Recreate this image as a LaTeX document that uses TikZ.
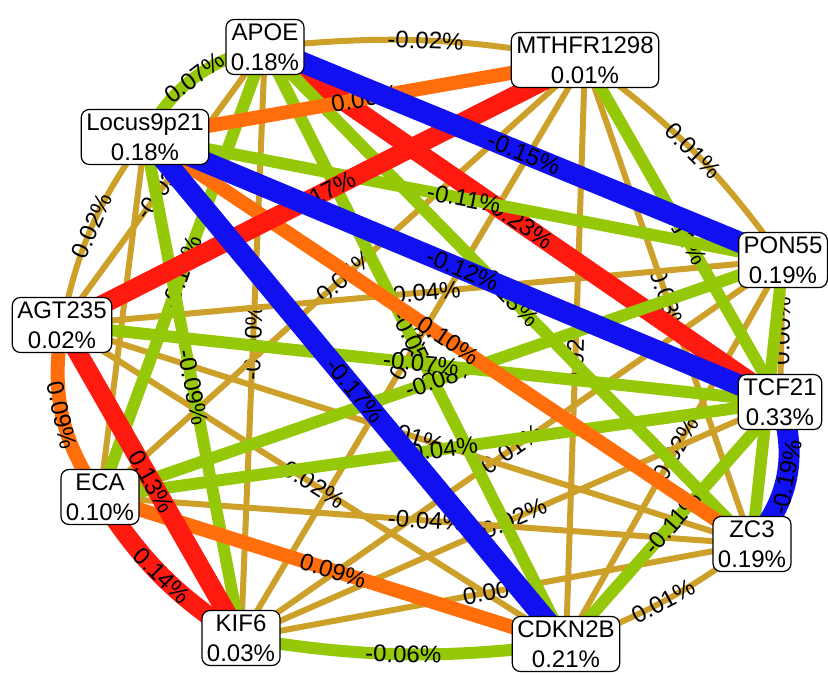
\documentclass[tikz,border=0pt]{standalone}
\usepackage{fontspec}
\setmainfont{Liberation Sans}
\usepackage{xcolor}
\usepackage{tikz}
\definecolor{eblue}{HTML}{1010F0}
\definecolor{ered}{HTML}{FF1A10}
\definecolor{eorange}{HTML}{FF6E0A}
\definecolor{egreen}{HTML}{96C80A}
\definecolor{egold}{HTML}{CDA02A}
\pgfdeclarelayer{edges}
\pgfsetlayers{edges,main}

\begin{document}
\begin{tikzpicture}[x=1pt, y=1pt,
    gene/.style={draw, line width=1.2pt, fill=white, rounded corners=8pt, align=center,
                 inner xsep=5pt, inner ysep=4pt, font=\fontsize{24}{30}\selectfont},
    lab/.style={sloped, inner sep=0pt, font=\fontsize{24}{24}\selectfont},
    negstrong/.style={draw=eblue, line width=21pt},
    negweak/.style={draw=egreen, line width=12pt},
    neutral/.style={draw=egold, line width=6pt},
    posweak/.style={draw=eorange, line width=14pt},
    posstrong/.style={draw=ered, line width=19pt}]
    \useasboundingbox (0,0) rectangle (828,675);

    % Gene nodes
    \node[gene] (apoe)  at (265,628) {APOE\\0.18\%};
    \node[gene] (mthfr) at (585,615) {MTHFR1298\\0.01\%};
    \node[gene] (locus) at (145,538) {Locus9p21\\0.18\%};
    \node[gene] (pon)   at (783,415) {PON55\\0.19\%};
    \node[gene] (agt)   at (62,350)  {AGT235\\0.02\%};
    \node[gene] (tcf)   at (780,273) {TCF21\\0.33\%};
    \node[gene] (eca)   at (100,178) {ECA\\0.10\%};
    \node[gene] (zc)    at (752,131) {ZC3\\0.19\%};
    \node[gene] (kif)   at (241,37)  {KIF6\\0.03\%};
    \node[gene] (cdkn)  at (566,31)  {CDKN2B\\0.21\%};

    \begin{pgfonlayer}{edges}
    % Interactions near zero
    \foreach \a/\b/\bd/\t in {apoe/mthfr/8/{-0.02\%}, mthfr/pon/9/{0.01\%}, pon/tcf/0/{0.00\%},
        zc/cdkn/8/{0.01\%}, agt/locus/12/{0.02\%}, apoe/agt/0/{-0.03\%}, apoe/kif/0/{-0.00\%},
        mthfr/eca/0/{-0.04\%}, mthfr/zc/0/{0.03\%}, mthfr/kif/0/{0.01\%}, mthfr/cdkn/0/{0.02\%},
        locus/eca/0/{}, pon/agt/0/{-0.04\%}, pon/kif/0/{0.01\%}, pon/cdkn/0/{-0.02\%},
        agt/zc/0/{-0.01\%}, agt/cdkn/0/{0.02\%}, tcf/kif/0/{-0.02\%}, eca/zc/0/{-0.04\%},
        zc/kif/0/{0.00\%}} {
        \draw[neutral] (\a.center) to[bend left=\bd] node[lab] {\t} (\b.center);
    }

    \draw[posstrong] (apoe.center) -- node[lab] {0.23\%} (tcf.center);

    % Negative interactions
    \foreach \a/\b/\bd/\t in {locus/apoe/24/{0.07\%}, cdkn/kif/8/{-0.06\%}, apoe/eca/0/{-0.10\%},
        apoe/zc/0/{-0.13\%}, apoe/cdkn/0/{-0.05\%}, mthfr/tcf/0/{-0.11\%}, locus/pon/0/{-0.11\%},
        locus/kif/0/{-0.09\%}, pon/eca/0/{-0.08\%}, pon/zc/0/{}, agt/tcf/0/{-0.07\%},
        tcf/eca/0/{-0.04\%}, tcf/cdkn/0/{-0.11\%}} {
        \draw[negweak] (\a.center) to[bend left=\bd] node[lab] {\t} (\b.center);
    }

    % Positive interactions
    \foreach \a/\b/\bd/\t in {locus/mthfr/0/{0.06\%}, eca/agt/22/{0.09\%}, locus/zc/0/{0.10\%},
        eca/cdkn/0/{0.09\%}} {
        \draw[posweak] (\a.center) to[bend left=\bd] node[lab] {\t} (\b.center);
    }
    \foreach \a/\b/\bd/\t in {agt/mthfr/0/{0.17\%}, agt/kif/0/{0.13\%}, kif/eca/12/{0.14\%}} {
        \draw[posstrong] (\a.center) to[bend left=\bd] node[lab] {\t} (\b.center);
    }

    % Strong negative interactions
    \foreach \a/\b/\bd/\t in {apoe/pon/0/{-0.15\%}, locus/tcf/0/{-0.12\%}, locus/cdkn/0/{-0.17\%},
        tcf/zc/30/{-0.19\%}} {
        \draw[negstrong] (\a.center) to[bend left=\bd] node[lab] {\t} (\b.center);
    }
    \end{pgfonlayer}
\end{tikzpicture}
\end{document}
